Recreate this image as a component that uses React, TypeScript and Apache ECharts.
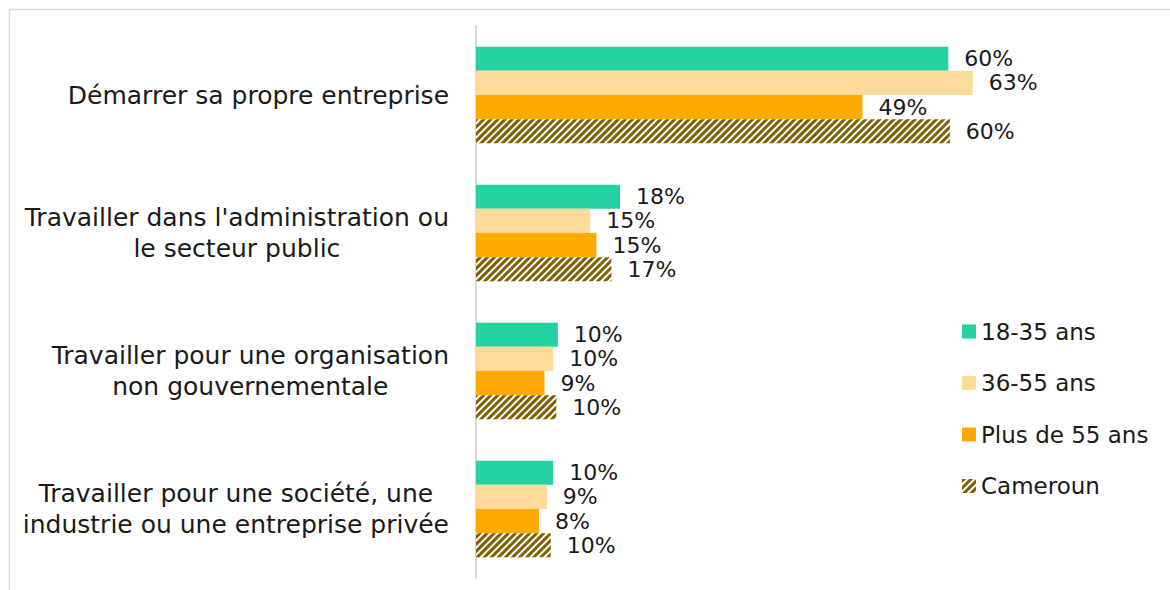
import React, { useEffect, useRef } from "react";
import * as echarts from "echarts";

const categories: string[] = [
  "Démarrer sa propre entreprise",
  "Travailler dans l'administration ou\nle secteur public",
  "Travailler pour une organisation\nnon gouvernementale",
  "Travailler pour une société, une\nindustrie ou une entreprise privée",
];

const seriesNames: string[] = ["18-35 ans", "36-55 ans", "Plus de 55 ans", "Cameroun"];

const age18to35: number[] = [60.0, 18.3, 10.4, 9.8];
const age36to55: number[] = [63.1, 14.5, 9.8, 9.0];
const age55plus: number[] = [49.1, 15.3, 8.7, 8.0];
const cameroun: number[] = [60.2, 17.2, 10.2, 9.5];

const colors: string[] = ["#25D0A1", "#FFDA98", "#FFAA00", "#7F5F00"];

const FONT = "'Century Gothic', 'DejaVu Sans', sans-serif";
const TEXT = "#1a1a1a";

export default function App() {
  const ref = useRef<HTMLDivElement>(null);

  useEffect(() => {
    if (!ref.current) return;
    const chart = echarts.init(ref.current, undefined, { renderer: "svg" });

    const values = [age18to35, age36to55, age55plus, cameroun];

    const series = values.map((data, i) => {
      const isHatch = i === 3;
      return {
        name: seriesNames[i],
        type: "bar",
        data,
        barGap: "0%",
        barCategoryGap: "30%",
        itemStyle: isHatch
          ? {
              color: "#ffffff",
              decal: {
                symbol: "rect",
                symbolSize: 1,
                color: colors[3],
                dashArrayX: [1, 0],
                dashArrayY: [2.4, 1.9],
                rotation: -Math.PI / 4,
              },
            }
          : { color: colors[i] },
        label: {
          show: true,
          position: "right",
          distance: 16,
          color: TEXT,
          fontFamily: FONT,
          fontSize: 22,
          formatter: (p: any) => Math.round(p.value) + "%",
        },
      };
    });

    chart.setOption({
      animation: false,
      backgroundColor: "#ffffff",
      aria: { enabled: false },
      graphic: [
        {
          type: "rect",
          left: 7,
          top: 7,
          shape: { width: 1200, height: 640 },
          style: { fill: "none", stroke: "#d9d9d9", lineWidth: 1.5 },
          silent: true,
          z: -10,
        },
      ],
      grid: { left: 476, right: 143, top: 26, bottom: 12, containLabel: false },
      xAxis: {
        type: "value",
        min: 0,
        max: 70,
        interval: 10,
        show: false,
        splitLine: { show: false },
      },
      yAxis: {
        type: "category",
        data: categories,
        inverse: true,
        axisLine: { show: true, lineStyle: { color: "#d9d9d9", width: 2 } },
        axisTick: { show: false },
        axisLabel: {
          margin: 27,
          fontFamily: FONT,
          fontSize: 25,
          color: TEXT,
          formatter: (v: string) =>
            v
              .split("\n")
              .map((l) => `{c|${l}}`)
              .join("\n"),
          rich: {
            c: {
              align: "center",
              fontFamily: FONT,
              fontSize: 25,
              lineHeight: 31,
              color: TEXT,
            },
          },
        },
      },
      legend: {
        orient: "vertical",
        left: 957,
        top: 315,
        itemWidth: 14,
        itemHeight: 14,
        itemGap: 28.5,
        icon: "rect",
        data: seriesNames,
        textStyle: {
          fontFamily: FONT,
          fontSize: 23,
          color: TEXT,
        },
      },
      series,
    });

    return () => {
      chart.dispose();
    };
  }, []);

  return (
    <div
      ref={ref}
      style={{ position: "fixed", left: 0, top: 0, width: 1170, height: 590 }}
    />
  );
}
